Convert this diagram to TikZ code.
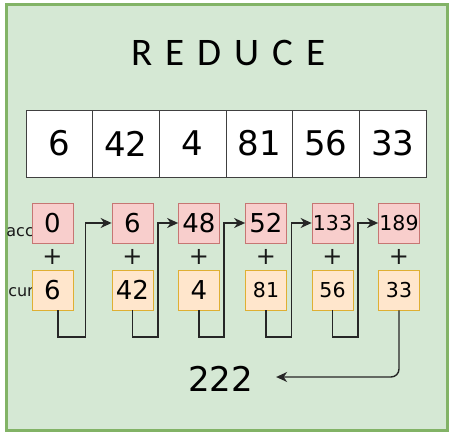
\documentclass[tikz,border=0pt]{standalone}
\usepackage{fontspec}
\setmainfont{DejaVu Sans}
\newfontfamily\titlefont{Carlito}
\usetikzlibrary{arrows.meta}
\definecolor{grfill}{HTML}{D5E8D4}
\definecolor{grline}{HTML}{82B366}
\definecolor{accfill}{HTML}{F8CECC}
\definecolor{accline}{HTML}{B85450}
\definecolor{curfill}{HTML}{FFE6CC}
\definecolor{curline}{HTML}{D79B00}
\definecolor{conncol}{HTML}{262626}
\tikzset{
  cell/.style={draw=black!75, fill=white, line width=0.8pt, minimum width=66.7pt, minimum height=67pt, inner sep=0pt, font=\fontsize{34}{34}\selectfont},
  accbox/.style={draw=accline!80, fill=accfill, line width=0.8pt, minimum width=41pt, minimum height=40pt, inner sep=0pt, font=\fontsize{26}{26}\selectfont},
  curbox/.style={draw=curline!80, fill=curfill, line width=0.8pt, minimum width=41pt, minimum height=40pt, inner sep=0pt, font=\fontsize{26}{26}\selectfont},
  small/.style={font=\fontsize{20.5}{20.5}\selectfont},
  plus/.style={inner sep=0pt, font=\fontsize{24}{24}\selectfont, text=black!90},
  lbl/.style={inner sep=0pt, anchor=east, font=\fontsize{16}{16}\selectfont, text=black!90},
  conn/.style={draw=conncol, line width=1.4pt, -{Stealth[length=11pt,width=10pt,inset=3.5pt]}},
}
\begin{document}
\begin{tikzpicture}[x=1pt,y=-1pt]
\useasboundingbox[fill=white] (0,0) rectangle (454,443);
\draw[grline, fill=grfill, line width=3pt] (6,5) rectangle (447,430);
\node[inner sep=0pt, font=\titlefont\fontsize{39}{39}\selectfont] (title) at (228.5,52.5) {\spaceskip=13pt R E D U C E};
% array
\node[cell] (v1) at (59.3,143.5) {6};
\node[cell] (v2) at (126,143.5) {42};
\node[cell] (v3) at (192.7,143.5) {4};
\node[cell] (v4) at (259.3,143.5) {81};
\node[cell] (v5) at (326,143.5) {56};
\node[cell] (v6) at (392.7,143.5) {33};
% labels
\node[lbl] (accl) at (34,232) {acc};
\node[lbl] (curl) at (34,292) {cur};
% acc boxes
\node[accbox] (a1) at (52.5,223) {0};
\node[accbox] (a2) at (132.5,223) {6};
\node[accbox] (a3) at (199,223) {48};
\node[accbox] (a4) at (266,223) {52};
\node[accbox, small] (a5) at (332.5,223) {133};
\node[accbox, small] (a6) at (399,223) {189};
% plus
\node[plus] (p1) at (52.5,257) {+};
\node[plus] (p2) at (132.5,257) {+};
\node[plus] (p3) at (199,257) {+};
\node[plus] (p4) at (266,257) {+};
\node[plus] (p5) at (332.5,257) {+};
\node[plus] (p6) at (399,257) {+};
% cur boxes
\node[curbox] (c1) at (52.5,290) {6};
\node[curbox] (c2) at (132.5,290) {42};
\node[curbox] (c3) at (199,290) {4};
\node[curbox, small] (c4) at (266,290) {81};
\node[curbox, small] (c5) at (332.5,290) {56};
\node[curbox, small] (c6) at (399,290) {33};
% result
\node[inner sep=0pt, font=\fontsize{34}{34}\selectfont] (res) at (220.5,379) {222};
% connectors
\draw[conn] ([xshift=5.5pt]c1.south) |- ([xshift=-26pt,yshift=-114pt]a2.west) |- (a2.west);
\draw[conn] (c2.south) |- ([xshift=-20pt,yshift=-114pt]a3.west) |- (a3.west);
\draw[conn] (c3.south) |- ([xshift=-21pt,yshift=-114pt]a4.west) |- (a4.west);
\draw[conn] (c4.south) |- ([xshift=-20pt,yshift=-114pt]a5.west) |- (a5.west);
\draw[conn] (c5.south) |- ([xshift=-20pt,yshift=-114pt]a6.west) |- (a6.west);
\draw[conn, rounded corners=8pt] (c6.south) |- ([xshift=23pt,yshift=2pt]res.east);
\end{tikzpicture}
\end{document}
